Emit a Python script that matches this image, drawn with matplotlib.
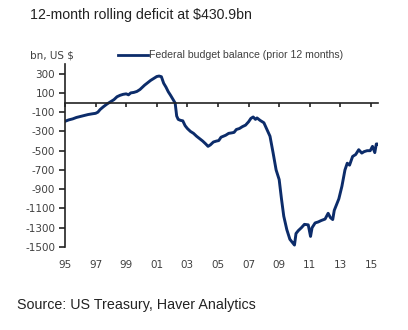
import matplotlib
matplotlib.use("Agg")
import matplotlib.pyplot as plt

# 12-month rolling federal budget balance, bn US$
dates = [1995.0, 1995.25, 1995.5, 1995.75, 1996.0, 1996.25, 1996.5, 1996.75,
         1997.0, 1997.15, 1997.3, 1997.5, 1997.75, 1998.0, 1998.2, 1998.4,
         1998.6, 1998.8, 1999.0, 1999.15, 1999.3, 1999.5, 1999.7, 1999.9,
         2000.0, 2000.2, 2000.4, 2000.6, 2000.8, 2001.0, 2001.15, 2001.3,
         2001.45, 2001.6, 2001.75, 2001.9, 2002.05, 2002.2, 2002.3, 2002.4,
         2002.55, 2002.7, 2002.85, 2003.0, 2003.2, 2003.4, 2003.6, 2003.8,
         2004.0, 2004.2, 2004.35, 2004.5, 2004.7, 2004.9, 2005.05, 2005.2,
         2005.35, 2005.5, 2005.7, 2005.9, 2006.05, 2006.2, 2006.4, 2006.6,
         2006.8, 2007.0, 2007.15, 2007.3, 2007.45, 2007.55, 2007.75, 2008.0,
         2008.2, 2008.4, 2008.6, 2008.8, 2009.0, 2009.15, 2009.3, 2009.5,
         2009.7, 2009.85, 2010.0, 2010.1, 2010.25, 2010.45, 2010.65, 2010.9,
         2011.05, 2011.15, 2011.35, 2011.55, 2011.75, 2012.0, 2012.2, 2012.35,
         2012.5, 2012.6, 2012.75, 2012.9, 2013.1, 2013.3, 2013.45, 2013.6,
         2013.8, 2014.0, 2014.2, 2014.4, 2014.55, 2014.75, 2014.95, 2015.1,
         2015.25, 2015.35, 2015.42]
balance = [-195, -180, -170, -155, -145, -135, -125, -118,
           -112, -100, -72, -45, -15, 10, 30, 60,
           75, 85, 90, 80, 100, 105, 115, 135,
           150, 180, 205, 230, 250, 270, 275, 268,
           200, 160, 112, 75, 35, -5, -140, -175,
           -185, -190, -240, -270, -300, -320, -350, -375,
           -400, -430, -455, -440, -410, -400, -395, -360,
           -350, -340, -320, -315, -310, -280, -270, -250,
           -235, -200, -165, -150, -175, -160, -185, -210,
           -280, -350, -520, -700, -800, -1000, -1180, -1320,
           -1420, -1450, -1480, -1360, -1330, -1300, -1265, -1270,
           -1390, -1300, -1250, -1240, -1225, -1210, -1150, -1195,
           -1215, -1120, -1060, -1000, -870, -700, -630, -650,
           -560, -540, -490, -525, -510, -500, -500, -455,
           -520, -430, -431]

year_ticks = [1995, 1997, 1999, 2001, 2003, 2005, 2007, 2009, 2011, 2013, 2015]
year_labels = ["95", "97", "99", "01", "03", "05", "07", "09", "11", "13", "15"]
y_ticks = [300, 100, -100, -300, -500, -700, -900, -1100, -1300, -1500]

navy = "#0c2c6a"
plt.rcParams["font.family"] = ["Liberation Sans", "DejaVu Sans"]

fig = plt.figure(figsize=(4.08, 3.30), dpi=100, facecolor="white")
ax = fig.add_axes([65 / 408, 83 / 330, 313 / 408, 183 / 330])

ax.plot(dates, balance, color=navy, lw=2.1, solid_joinstyle="round")

ax.set_xlim(1995, 2015.46)
ax.set_ylim(-1500, 400)

# zero line carries the x ticks
for s in ["top", "right"]:
    ax.spines[s].set_visible(False)
ax.spines["bottom"].set_position(("data", 0))
ax.spines["bottom"].set_color("#222222")
ax.spines["bottom"].set_linewidth(1.2)
ax.spines["left"].set_color("#222222")
ax.spines["left"].set_linewidth(1.2)
ax.set_xticks(year_ticks)
ax.tick_params(axis="x", direction="out", length=3, width=1.2, color="#222222",
               labelbottom=False)

ax.set_yticks(y_ticks)
ax.set_yticklabels([str(v) for v in y_ticks], family="DejaVu Sans")
ax.tick_params(axis="y", direction="out", length=4, width=1.2, color="#222222",
               labelsize=7.5, labelcolor="#404040", pad=3)

# year labels below the plot area
sec = ax.secondary_xaxis(0)
sec.set_xticks(year_ticks)
sec.set_xticklabels(year_labels, family="DejaVu Sans")
sec.spines["bottom"].set_visible(False)
sec.tick_params(axis="x", length=0, labelsize=7.5, labelcolor="#404040", pad=9)

fig.text(30 / 408, 1 - 15 / 330, "12-month rolling deficit at $430.9bn",
         fontsize=10.2, color="#222222", va="center", ha="left")
fig.text(30 / 408, 1 - 55 / 330, "bn, US $", fontsize=7.5, color="#404040",
         va="center", ha="left", family="DejaVu Sans")
fig.add_artist(plt.Line2D([118 / 408, 148 / 408], [1 - 55 / 330, 1 - 55 / 330],
                          color=navy, lw=2))
fig.text(149 / 408, 1 - 55 / 330, "Federal budget balance (prior 12 months)",
         fontsize=7.6, color="#404040", va="center", ha="left")
fig.text(17 / 408, 1 - 305 / 330, "Source: US Treasury, Haver Analytics",
         fontsize=10.3, color="#222222", va="center", ha="left")

fig.savefig("out.png", dpi=100, facecolor="white")
